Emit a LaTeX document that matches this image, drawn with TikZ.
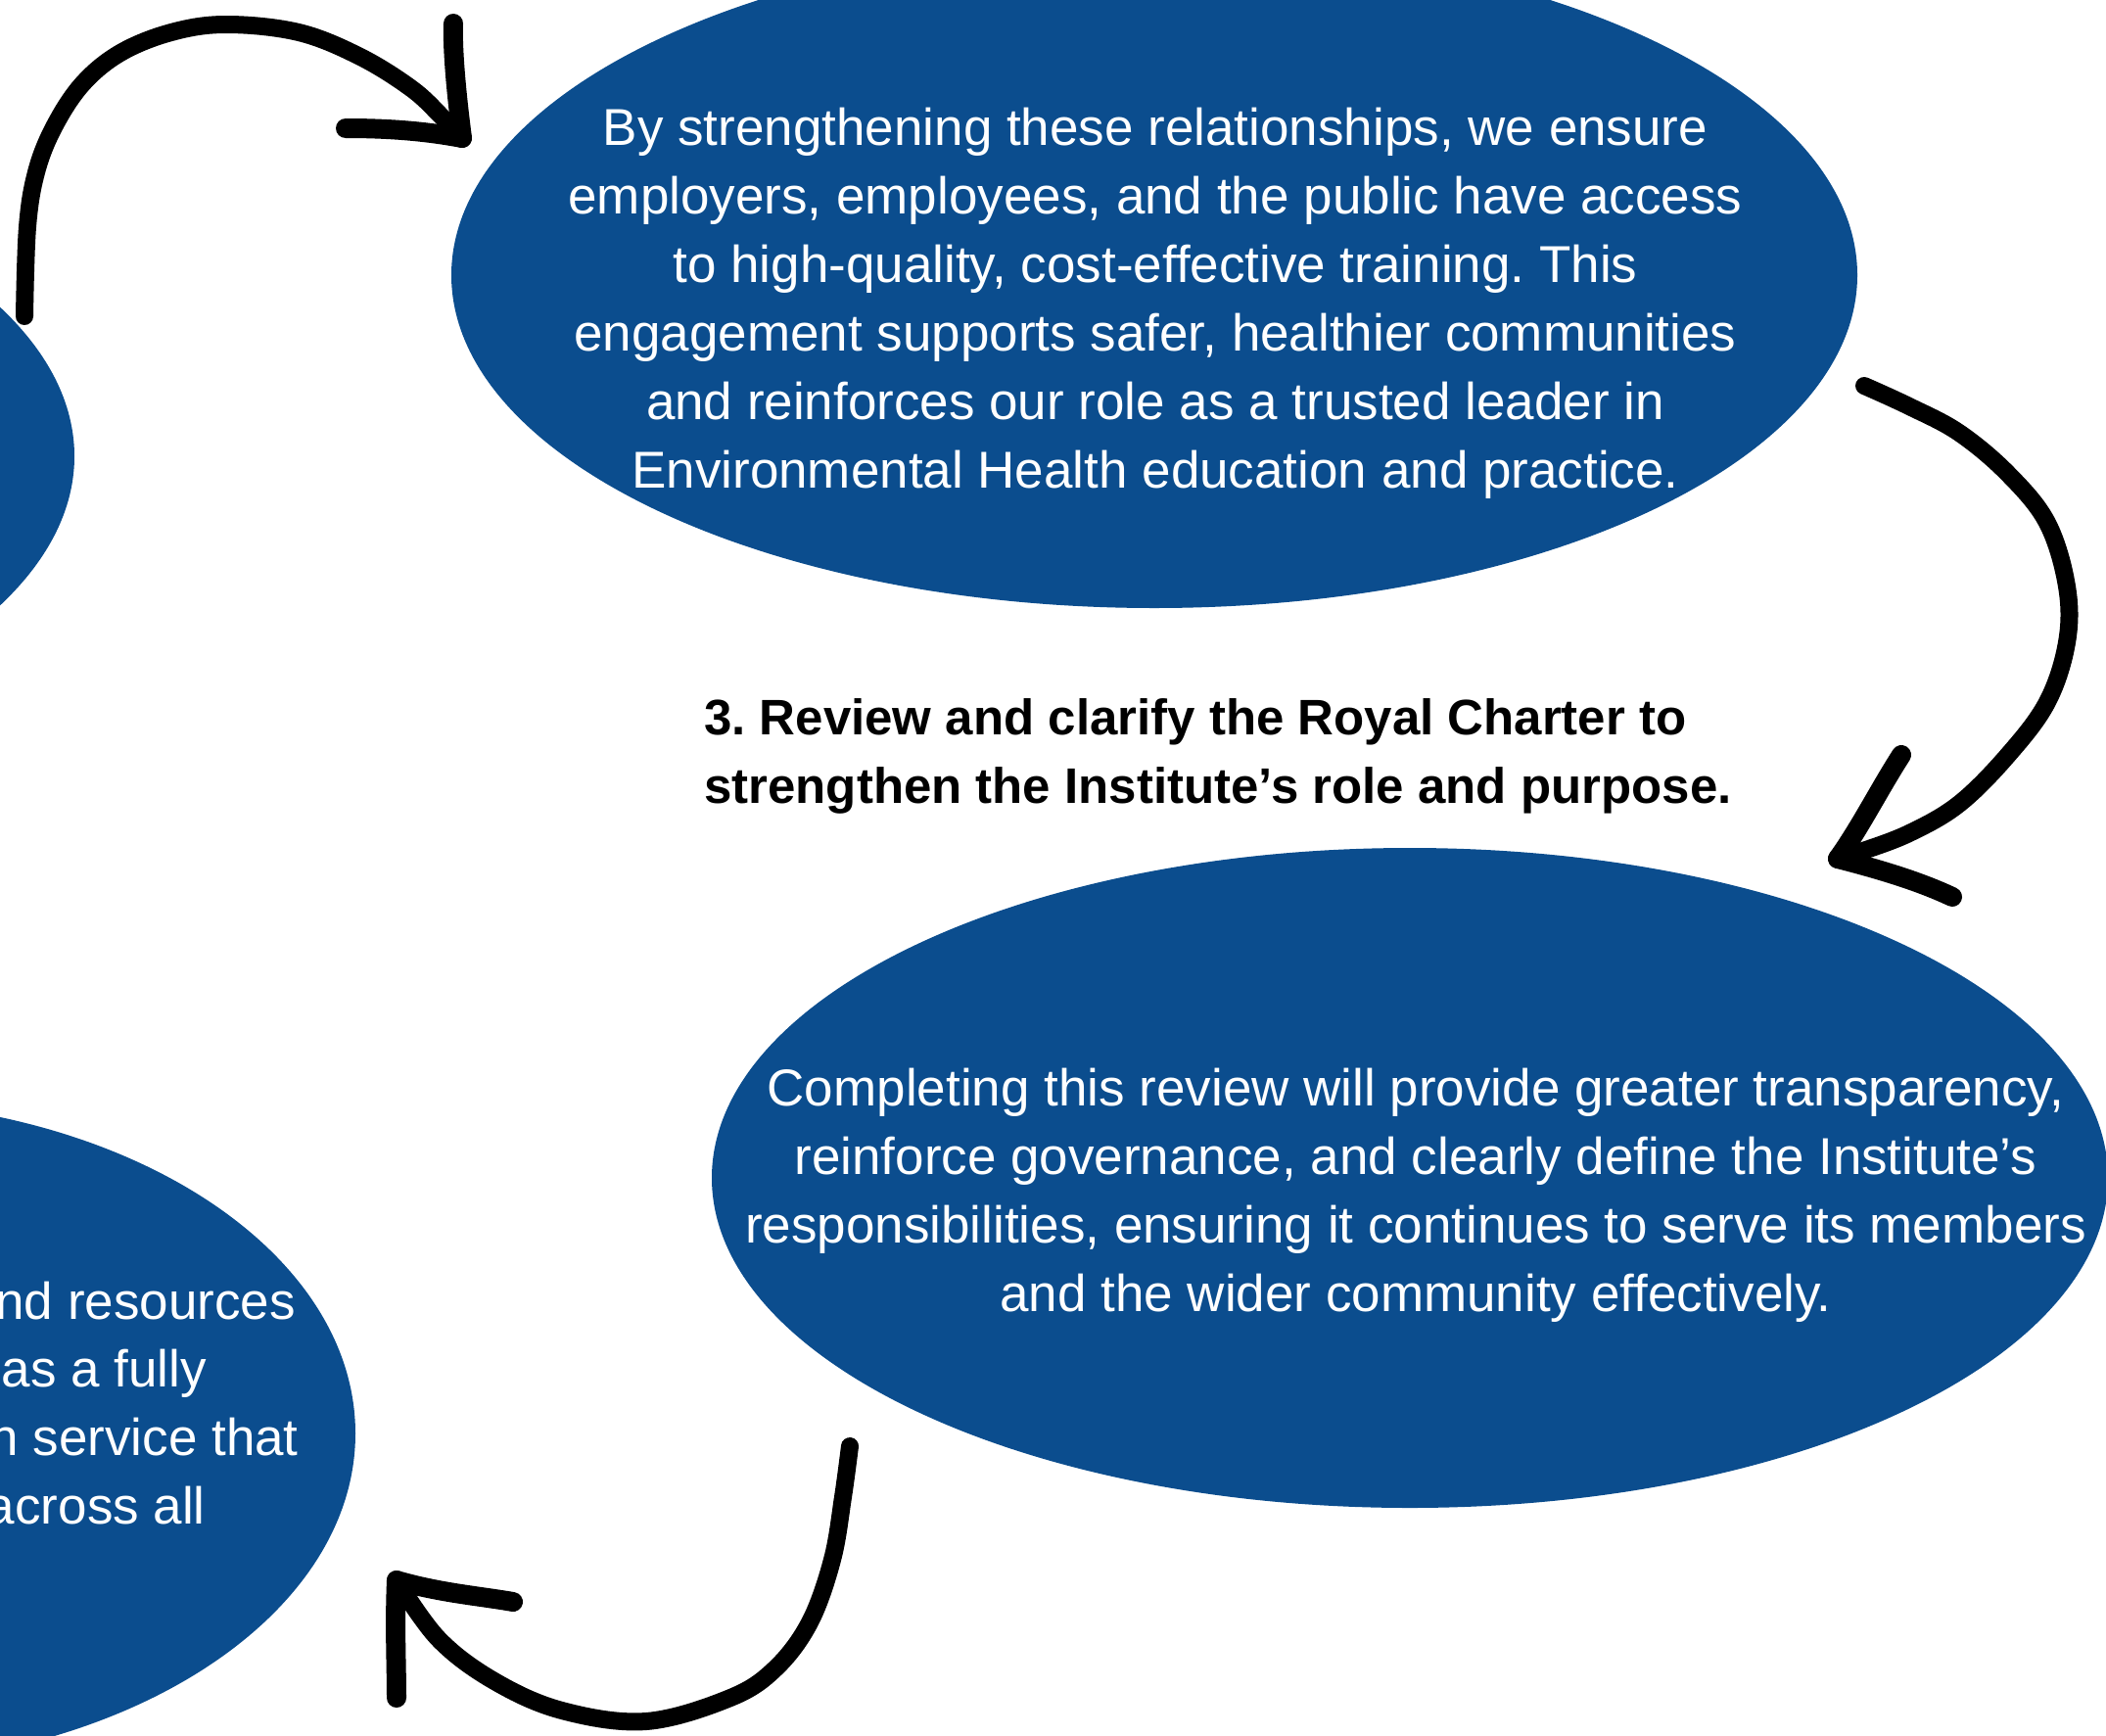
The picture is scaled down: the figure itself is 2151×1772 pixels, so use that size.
\documentclass[tikz,border=0pt]{standalone}
\usepackage{fontspec}
\setmainfont{Liberation Sans}
\frenchspacing
\usetikzlibrary{shapes.geometric}
\definecolor{capblue}{HTML}{0B4D8E}
\begin{document}
\begin{tikzpicture}[x=1pt,y=-1pt,
  blob/.style={ellipse, fill=capblue, draw=none, inner sep=0pt},
  bodytext/.style={text=white, align=center, inner sep=0pt,
    font=\fontsize{53}{70}\selectfont},
  fragtext/.style={text=white, inner sep=0pt, anchor=base east,
    font=\fontsize{53}{70}\selectfont},
  headtext/.style={text=black, align=left, inner sep=0pt, anchor=west,
    font=\bfseries\fontsize{51}{70}\selectfont},
  stroke/.style={line width=18pt, line cap=round, line join=round, black},
  barb/.style={line width=20pt, line cap=round, line join=round, black}]
\useasboundingbox (0,0) rectangle (2151,1772);

% ---- ellipses ----
\node[blob, minimum width=1436pt, minimum height=680pt] (leftell) at (-642,466) {};
\node[blob, minimum width=1436pt, minimum height=680pt] (topell) at (1179,281) {};
\node[blob, minimum width=1426pt, minimum height=674pt] (rightell) at (1440,1203) {};
\node[blob, minimum width=1056pt, minimum height=680pt] (botell) at (-165,1464) {};

% ---- texts ----
\node[bodytext] (toptext) at (1180,310) {By strengthening these relationships, we ensure\\
employers, employees, and the public have access\\
to high-quality, cost-effective training. This\\
engagement supports safer, healthier communities\\
and reinforces our role as a trusted leader in\\
Environmental Health education and practice.};

\node[bodytext] (righttext) at (1446,1221) {Completing this review will provide greater transparency,\\
reinforce governance, and clearly define the Institute’s\\
responsibilities, ensuring it continues to serve its members\\
and the wider community effectively.};

\node[headtext] (heading) at (719,772) {3. Review and clarify the Royal Charter to\\
strengthen the Institute’s role and purpose.};

\node[fragtext] (frag1) at (302,1347) {nd resources};
\node[fragtext] (frag2) at (211,1416) {as a fully};
\node[fragtext] (frag3) at (305,1486) {n service that};
\node[fragtext] (frag4) at (210,1556) {across all};

% ---- hand-drawn arrows ----
% arrow from the left ellipse to the top ellipse
\coordinate (a1s) at (25,323);
\coordinate (a1t) at (472,141);
\coordinate (a1u) at (463,24);
\coordinate (a1l) at (353,131);
\draw[stroke] plot[smooth, tension=0.6] coordinates {(a1s) (28,232) (37,176) (55,130) (84,86) (123,54) (175,33) (231,25) (305,33) (368,58) (421,91) (452,120) (a1t)};
\draw[barb] (a1t) .. controls (466,95) and (462,50) .. (a1u);
\draw[barb] (a1t) .. controls (430,133) and (390,131) .. (a1l);

% arrow from the top ellipse to the right ellipse
\coordinate (a2s) at (1904,394);
\coordinate (a2t) at (1877,877);
\coordinate (a2u) at (1942,771);
\coordinate (a2l) at (1994,916);
\draw[stroke] plot[smooth, tension=0.6] coordinates {(a2s) (1950,415) (2001,442) (2051,484) (2091,534) (2111,599) (2111,656) (2091,717) (2051,771) (2001,821) (1950,851) (1900,870) (a2t)};
\draw[barb] (a2t) .. controls (1900,845) and (1920,805) .. (a2u);
\draw[barb] (a2t) .. controls (1920,888) and (1960,900) .. (a2l);

% arrow from the right ellipse to the bottom ellipse
\coordinate (a3s) at (868,1477);
\coordinate (a3t) at (405,1614);
\coordinate (a3d) at (405,1734);
\coordinate (a3r) at (524,1636);
\draw[stroke] plot[smooth, tension=0.6] coordinates {(a3s) (861,1529) (850,1593) (827,1657) (792,1704) (746,1734) (660,1758) (574,1747) (505,1717) (448,1674) (a3t)};
\draw[barb] (a3t) .. controls (403,1660) and (405,1700) .. (a3d);
\draw[barb] (a3t) .. controls (450,1627) and (490,1630) .. (a3r);
\end{tikzpicture}
\end{document}
